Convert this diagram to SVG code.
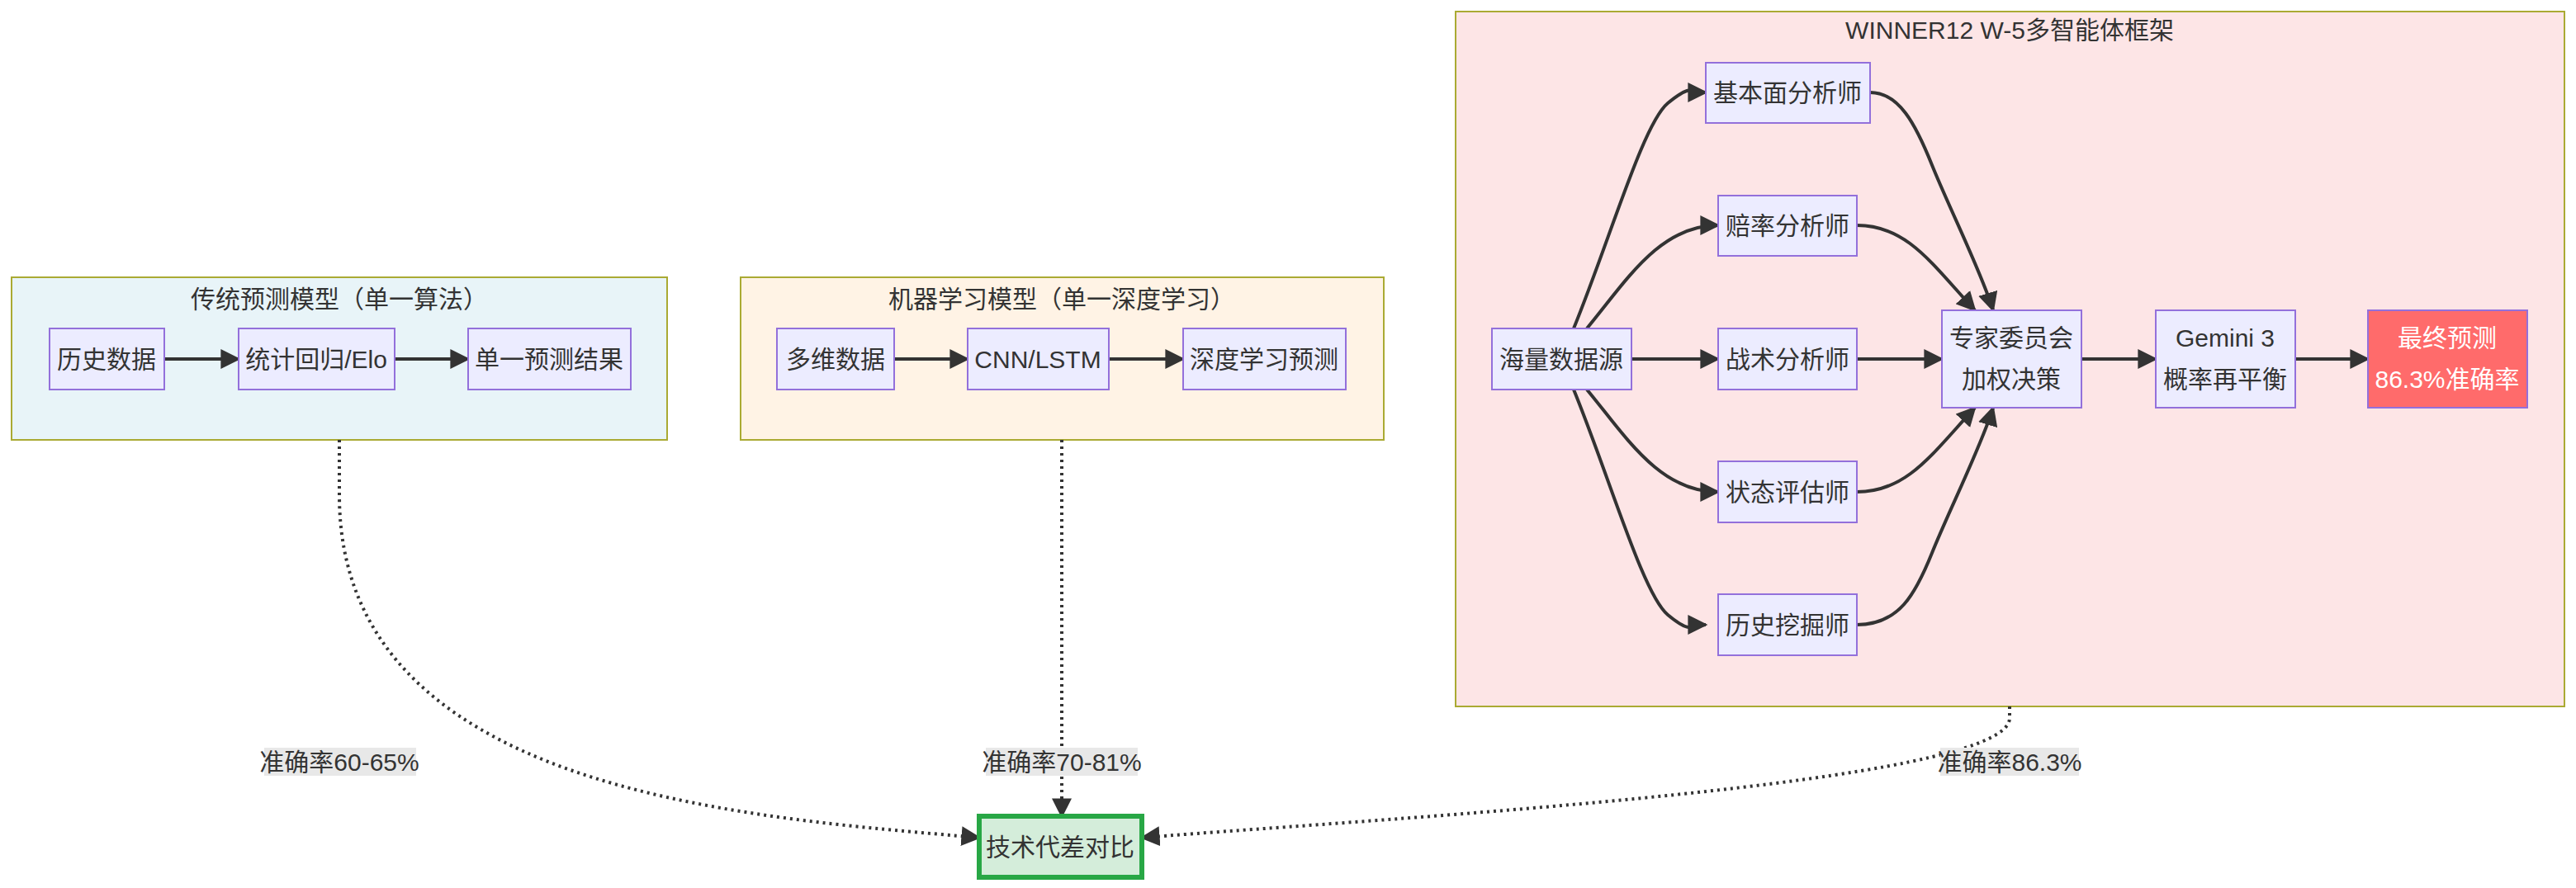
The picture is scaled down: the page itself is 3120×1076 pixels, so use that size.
<svg xmlns="http://www.w3.org/2000/svg" width="3120" height="1076" viewBox="0 0 3120 1076">
<defs>
<marker id="ah" viewBox="0 0 10 10" refX="9" refY="5" markerWidth="8" markerHeight="8" markerUnits="userSpaceOnUse" orient="auto"><path d="M0,0L10,5L0,10z" fill="#333"/></marker>
<marker id="a" viewBox="0 0 10 10" refX="9" refY="5" markerWidth="24" markerHeight="24" markerUnits="userSpaceOnUse" orient="auto"><path d="M0,0L10,5L0,10z" fill="#333"/></marker>
</defs>
<style>
text{font-family:"Liberation Sans","Noto Sans CJK SC",sans-serif;font-size:30px;fill:#333;text-anchor:middle;dominant-baseline:central}
.n{fill:#ECECFF;stroke:#9370DB;stroke-width:2}
.c{stroke:#AAAA33;stroke-width:2}
.e{fill:none;stroke:#333;stroke-width:4}
.d{fill:none;stroke:#333;stroke-width:4;stroke-dasharray:3 5}
.lb{fill:#e8e8e8}
</style>
<rect x="14" y="336" width="794" height="197" fill="#E8F4F8" class="c"/>
<text x="411" y="362">传统预测模型（单一算法）</text>
<rect x="897" y="336" width="779" height="197" fill="#FFF3E5" class="c"/>
<text x="1286" y="362">机器学习模型（单一深度学习）</text>
<rect x="1763" y="14" width="1343" height="842" fill="#FDE5E6" class="c"/>
<text x="2434" y="36">WINNER12 W-5多智能体框架</text>
<g id="edges">
<path class="e" marker-end="url(#a)" d="M199,435H289"/>
<path class="e" marker-end="url(#a)" d="M478,435H567"/>
<path class="e" marker-end="url(#a)" d="M1083,435H1172"/>
<path class="e" marker-end="url(#a)" d="M1343,435H1433"/>
<path class="e" marker-end="url(#a)" d="M1906,398C1950,290 1990,150 2020,125S2050,112 2066,112"/>
<path class="e" marker-end="url(#a)" d="M1922,398C1970,340 2010,273 2081,273"/>
<path class="e" marker-end="url(#a)" d="M1976,435H2081"/>
<path class="e" marker-end="url(#a)" d="M1922,472C1970,530 2010,596 2081,596"/>
<path class="e" marker-end="url(#a)" d="M1906,472C1950,580 1990,720 2020,745S2050,757 2066,757"/>
<path class="e" marker-end="url(#a)" d="M2265,112C2300,112 2320,150 2340,200S2400,330 2414,376"/>
<path class="e" marker-end="url(#a)" d="M2249,273C2310,273 2340,320 2392,376"/>
<path class="e" marker-end="url(#a)" d="M2249,435H2352"/>
<path class="e" marker-end="url(#a)" d="M2249,596C2310,596 2340,550 2392,494"/>
<path class="e" marker-end="url(#a)" d="M2249,757C2300,757 2320,720 2340,670S2400,540 2414,494"/>
<path class="e" marker-end="url(#a)" d="M2521,435H2611"/>
<path class="e" marker-end="url(#a)" d="M2780,435H2868"/>
<path class="d" marker-end="url(#a)" d="M411,533V600C411,960 900,990 1186,1015"/>
<path class="d" marker-end="url(#a)" d="M1286,533V989"/>
<path class="d" marker-end="url(#a)" d="M2434,856V870C2434,950 1700,990 1383,1015"/>
</g>
<g id="labels">
<rect class="lb" x="320" y="906" width="184" height="34"/><text x="411" y="923">准确率60-65%</text>
<rect class="lb" x="1194" y="906" width="184" height="34"/><text x="1286" y="923">准确率70-81%</text>
<rect class="lb" x="2350" y="906" width="168" height="34"/><text x="2434" y="923">准确率86.3%</text>
</g>
<g id="n1"><rect class="n" x="60" y="398" width="139" height="74"/><text x="129" y="435">历史数据</text></g>
<g id="n2"><rect class="n" x="289" y="398" width="189" height="74"/><text x="383" y="435">统计回归/Elo</text></g>
<g id="n3"><rect class="n" x="567" y="398" width="197" height="74"/><text x="665" y="435">单一预测结果</text></g>
<g id="m1"><rect class="n" x="941" y="398" width="142" height="74"/><text x="1012" y="435">多维数据</text></g>
<g id="m2"><rect class="n" x="1172" y="398" width="171" height="74"/><text x="1257" y="435">CNN/LSTM</text></g>
<g id="m3"><rect class="n" x="1433" y="398" width="197" height="74"/><text x="1531" y="435">深度学习预测</text></g>
<g id="w0"><rect class="n" x="1807" y="398" width="169" height="74"/><text x="1891" y="435">海量数据源</text></g>
<g id="w1"><rect class="n" x="2066" y="76" width="199" height="73"/><text x="2165" y="112">基本面分析师</text></g>
<g id="w2"><rect class="n" x="2081" y="237" width="168" height="73"/><text x="2165" y="273">赔率分析师</text></g>
<g id="w3"><rect class="n" x="2081" y="398" width="168" height="74"/><text x="2165" y="435">战术分析师</text></g>
<g id="w4"><rect class="n" x="2081" y="559" width="168" height="74"/><text x="2165" y="596">状态评估师</text></g>
<g id="w5"><rect class="n" x="2081" y="720" width="168" height="74"/><text x="2165" y="757">历史挖掘师</text></g>
<g id="w6"><rect class="n" x="2352" y="376" width="169" height="118"/><text x="2436" y="409">专家委员会</text><text x="2436" y="459">加权决策</text></g>
<g id="w7"><rect class="n" x="2611" y="376" width="169" height="118"/><text x="2695" y="409">Gemini 3</text><text x="2695" y="459">概率再平衡</text></g>
<g id="w8"><rect x="2868" y="376" width="193" height="118" fill="#FF6B6B" stroke="#9370DB" stroke-width="2"/><text x="2964" y="409" style="fill:#fff">最终预测</text><text x="2964" y="459" style="fill:#fff">86.3%准确率</text></g>
<g id="t"><rect x="1186" y="989" width="197" height="74" fill="#D4EDDA" stroke="#28A745" stroke-width="6"/><text x="1284" y="1026">技术代差对比</text></g>
</svg>
